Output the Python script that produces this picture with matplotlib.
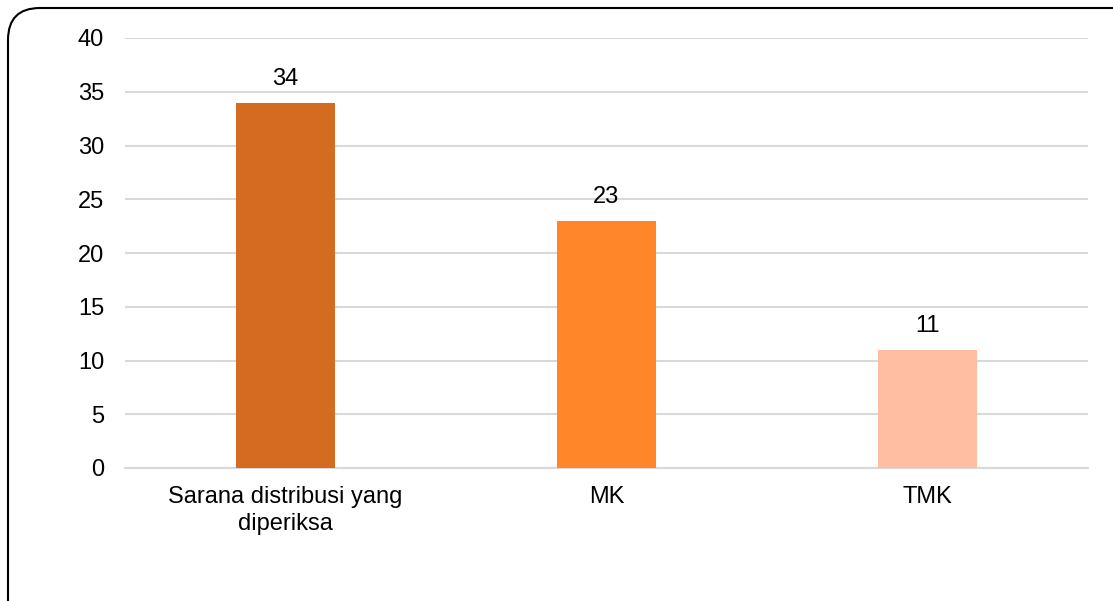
import matplotlib
matplotlib.use("Agg")
import matplotlib.pyplot as plt
from matplotlib.patches import FancyBboxPatch
from matplotlib.transforms import IdentityTransform

categories = ["Sarana distribusi yang\ndiperiksa", "MK", "TMK"]
values = [34, 23, 11]
colors = ["#D36B20", "#FF8629", "#FFBDA1"]
yticks = [0, 5, 10, 15, 20, 25, 30, 35, 40]

plt.rcParams['font.family'] = ['Liberation Sans', 'DejaVu Sans']
FS = 17

W, H = 1113, 601
fig = plt.figure(figsize=(W / 100, H / 100), dpi=100)
ax = fig.add_axes([125 / W, 1 - 468 / H, (1088 - 125) / W, (468 - 38) / H])

x = range(len(categories))
bars = ax.bar(x, values, width=0.31, color=colors, zorder=3)
for xi, v in zip(x, values):
    ax.text(xi, v + 1.67, str(v), ha="center", va="baseline", fontsize=FS, color="#000000")

ax.set_xlim(-0.5, 2.5)
ax.set_ylim(0, 40)
ax.set_yticks(yticks)
ax.set_xticks(list(x))
ax.set_xticklabels(categories, fontsize=FS, linespacing=1.3)
ax.tick_params(axis="y", labelsize=FS, length=0, pad=15)
ax.tick_params(axis="x", length=0, pad=13)
ax.yaxis.grid(True, color="#D9D9D9", linewidth=1.5, zorder=0)
for s in ["top", "right", "left"]:
    ax.spines[s].set_visible(False)
ax.spines["bottom"].set_color("#D9D9D9")
ax.spines["bottom"].set_linewidth(1.5)

box = FancyBboxPatch((8, -40), W + 40, H - 8 + 40,
                     boxstyle="round,pad=0,rounding_size=32",
                     transform=IdentityTransform(), fill=False,
                     edgecolor="black", linewidth=1.5, clip_on=False)
fig.patches.append(box)

fig.savefig("out.png", dpi=100)
